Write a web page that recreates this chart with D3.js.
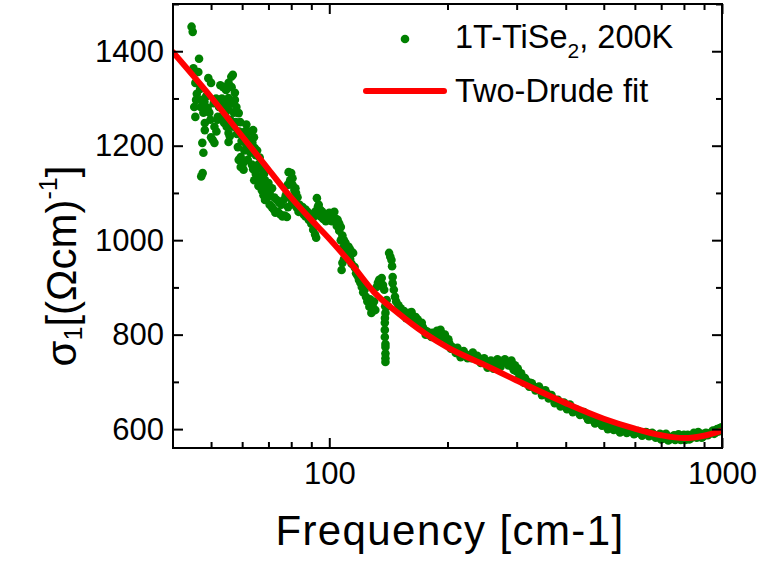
<!DOCTYPE html>
<html>
<head>
<meta charset="utf-8">
<script src="https://cdn.jsdelivr.net/npm/d3@7"></script>
<style>
  html, body { margin: 0; padding: 0; background: #fff; }
  svg { display: block; font-family: "Liberation Sans", Arial, Helvetica, sans-serif; }
</style>
</head>
<body>
<svg id="chart" width="760" height="562"></svg>
<script>
// ---------- data ----------
const xDomain = [40, 1000];
const yDomain = [560, 1500];
const xMajorTicks = [100, 1000];
const xMinorTicks = [50, 60, 70, 80, 90, 200, 300, 400, 500, 600, 700, 800, 900];
const yMajorTicks = [600, 800, 1000, 1200, 1400];
const yMinorTicks = [700, 900, 1100, 1300, 1500];

// measured sigma_1 (frequency cm-1, sigma)
const measured = [
  [44.6,1452],[44.9,1441],[45.1,1364],[45.3,1282],[45.6,1333],[45.8,1297],[45.6,1261],[46.4,1356],
  [46.6,1384],[47.6,1142],[47.2,1135],[47.0,1282],[47.4,1297],[47.5,1206],[47.8,1185],[48.1,1293],
  [48.2,1248],[48.2,1233],[49.2,1343],[50.0,1333],[50.0,1218],[49.5,1270],[50.5,1212],[51.0,1206],
  [51.0,1240],[51.5,1300],[52.0,1261],[52.0,1255],[52.4,1282],[52.8,1297],[52.8,1328],[53.0,1261],
  [53.7,1324],[54.0,1248],[54.6,1318],[55.0,1290],[55.4,1333],[55.4,1301],[55.4,1276],[55.4,1227],
  [55.4,1208],[56.0,1255],[56.3,1346],[56.4,1324],[56.8,1350],[57.0,1240],[57.5,1312],[57.5,1297],
  [58.0,1282],[58.5,1197],[58.8,1269],[58.8,1170],[59.0,1230],[59.5,1176],[59.5,1155],[60.0,1155],
  [60.3,1163],[60.5,1149],[61.0,1230],[61.5,1245],[62.0,1215],[62.0,1170],[63.0,1200],[63.0,1185],
  [63.7,1206],[64.0,1233],[64.3,1218],[64.6,1195],[65.0,1180],[65.5,1190],[66.0,1160],
  [46.0,1310],[46.9,1320],[47.8,1270],[48.6,1305],[49.0,1280],[49.8,1255],[50.8,1290],[51.6,1230],
  [53.3,1300],[53.9,1285],[54.3,1265],[54.8,1240],[55.8,1220],[56.5,1290],[57.2,1270],[57.8,1250],
  [58.2,1225],[59.3,1250],[59.8,1210],[60.8,1190],[61.5,1200],[62.5,1230],[63.5,1160],[64.0,1150],
  [65.5,1150],[66.5,1175],[67.5,1150],[68.2,1140],[69.0,1110],[70.5,1100],[71.5,1110],[72.5,1090],
  [73.5,1085],[74.5,1080],[75.5,1075],[76.5,1085],[77.5,1095],[78.5,1070],[79.5,1090],[80.5,1080],
  [81.5,1075],[82.5,1070],[83.5,1060],[85.5,1070],[87.0,1065],[88.0,1060],[89.0,1055],[90.0,1050],
  [64.4,1127],[65.0,1140],[66.0,1115],[66.9,1134],[67.3,1123],[67.3,1106],[68.0,1095],[68.6,1127],
  [68.6,1085],[69.5,1090],[70.0,1121],[70.5,1075],[71.4,1070],[72.2,1065],[72.9,1058],[74.0,1060],
  [75.0,1055],[76.0,1050],[77.0,1052],[78.0,1049],[78.4,1117],[78.8,1144],[79.5,1127],[79.5,1123],
  [80.0,1142],[80.6,1131],[80.6,1117],[81.5,1106],[82.0,1110],[82.3,1100],[83.0,1091],[84.0,1075],
  [84.7,1064],[86.0,1055],[87.0,1050],[88.7,1043],[90.0,1035],[91.0,1022],[92.0,1012],[92.6,1005],
  [91.0,1048],[92.0,1060],[93.5,1070],[95.0,1050],[96.5,1045],[98.0,1040],[100,1045],[101.5,1040],
  [103,1060],[104.5,1030],[106,1020],[107,1000],[108.5,985],[110,960],[111,975],[113,960],[114,950],
  [93.0,1089],[94.0,1075],[95.0,1064],[96.0,1060],[97.0,1052],[98.0,1049],[99.0,1055],[100,1058],
  [101,1055],[102.6,1049],[104,1045],[105,1043],[106,1035],[107,1028],[108,1010],[109,1000],
  [110,994],[112,986],[113,980],[115,973],[108,952],[107.5,937],[109,960],[110,970],[116,943],
  [117,930],[119,916],[121,901],[122,890],[124,880],[126.5,859],[128,846],[131,852],[132,901],
  [118,925],[120,910],[123,895],[125,870],[127,875],[129,860],[130,870],[135,905],[141,860],
  [133,910],[134,916],[136,920],[137,905],[138,895],[140,873],[139,846],[138.6,835],[138.5,825],
  [138.5,810],[138.5,795],[139,780],[139,774],[139,760],[139,750],[139,742],[138.8,860],
  [142,973],[143,965],[144,958],[144.5,945],[145,922],[145,909],[146,895],[147,880],
  [148,870],[150,862],[150,852],[152,846],[155,850],[155,840],[158,843],[160,846],[160,836],
  [163,840],[166,837],[166,828],[170,825],[170,818],[173,816],[176,808],[176,800],[180,799],
  [183,804],[185,800],[188,808],[190,804],[193,803],[193,795],[196,795],[199,789],[202,782],
  [205,775],[208,768],[210,761],[214,765],[218,760],[222,758],[227,757],[230,750],[233,755],
  [237,748],[240,751],[245,745],[250,742],[255,738],[260,736],[265,742],[270,738],[276,743],
  [283,740],[288,742],[293,731],[297,735],[300,722],[305,712],[311,704],[315,708],[320,695],
  [325,698],[330,689],[338,688],[345,683],[350,678],[358,676],[365,670],[370,665],[378,660],
  [385,655],[392,652],[400,650],[406,646],[413,647],[420,640],[430,637],[440,632],[452,626],
  [460,621],[470,619],[480,615],[490,613],[500,609],[508,608],[516,604],[525,604],[535,601],
  [545,600],[555,597],[567,598],[578,594],[590,594],[605,592],[620,593],[632,589],[645,592],
  [658,588],[670,589],[688,585],[707,588],[715,580],[725,585],[735,578],[744,583],[755,587],
  [770,584],[780,579],[790,583],[800,588],[812,583],[825,578],[840,585],[855,590],[876,588],
  [888,582],[900,590],[920,587],[941,594],[955,590],[965,598],[978,595],[988,602],[995,600],
  [152,856],[157,835],[162,848],[168,832],[172,825],[178,806],[182,795],[187,800],[192,810],
  [197,800],[201,790],[204,770],[212,772],[216,752],[220,765],[225,750],[232,762],[238,755],
  [243,740],[248,750],[253,730],[258,745],[262,728],[268,748],[273,732],[280,748],[286,735],
  [291,745],[295,725],[302,728],[308,718],[313,698],[318,702],[323,690],[328,697],[335,682],
  [342,690],[348,672],[355,682],[362,665],[368,672],[375,655],[382,662],[388,648],[396,656],
  [403,642],[410,652],[417,636],[425,642],[435,630],[445,636],[456,620],[465,625],[475,612],
  [485,618],[495,607],[505,612],[512,600],[520,607],[530,598],[540,604],[550,593],[560,600],
  [572,592],[584,598],[597,589],[612,596],[626,586],[640,594],[652,585],[664,592],[678,582],
  [695,590],[700,578],[720,590],[730,576],[750,580],[760,577],[775,589],[785,577],[795,586],
  [806,577],[818,588],[832,580],[848,592],[862,582],[870,594],[882,590],[895,584],[910,592],
  [930,590],[948,597],[960,592],[972,600],[985,596],[998,604]
];

// two-Drude fit curve (frequency cm-1, sigma)
const fit = [
  [40,1398],[50,1303],[60,1220],[70,1150],[80,1090],[90,1043],[100,1003],[115,945],[130,890],
  [150,845],[175,803],[200,773],[250,735],[300,703],[400,655],[500,622],[600,601],[700,587],
  [800,581],[900,586],[1000,597]
];

const legendLabels = ["1T-TiSe", "2", ", 200K", "Two-Drude fit"];
const xTitle = "Frequency [cm-1]";

// ---------- layout ----------
const svg = d3.select("#chart");
const mLeft = 173, mRight = 722, mTop = 4, mBottom = 448;
const green = "#008000", red = "#ff0000";

const x = d3.scaleLog().domain(xDomain).range([mLeft, mRight]);
const y = d3.scaleLinear().domain(yDomain).range([mBottom, mTop]);

svg.append("clipPath").attr("id", "clip").append("rect")
  .attr("x", mLeft).attr("y", mTop).attr("width", mRight - mLeft).attr("height", mBottom - mTop);

const plot = svg.append("g").attr("clip-path", "url(#clip)");

plot.selectAll("circle.pt").data(measured).join("circle")
  .attr("class", "pt")
  .attr("cx", d => x(d[0])).attr("cy", d => y(d[1])).attr("r", 4.3)
  .attr("fill", green);

const line = d3.line().x(d => x(d[0])).y(d => y(d[1])).curve(d3.curveMonotoneX);
plot.append("path").datum(fit).attr("d", line)
  .attr("fill", "none").attr("stroke", red).attr("stroke-width", 6).attr("stroke-linecap", "round");

function styleAxis(g) {
  g.select(".domain").remove();
  g.selectAll(".tick line").attr("stroke", "#000").attr("stroke-width", 2);
  g.selectAll(".tick text").attr("fill", "#000").style("font-size", "31px")
    .style("font-family", "'Liberation Sans', Arial, sans-serif");
}
const fmt = d3.format("d");
svg.append("g").attr("transform", `translate(0,${mBottom})`)
  .call(d3.axisBottom(x).tickValues(xMajorTicks).tickSize(-10).tickPadding(14).tickFormat(fmt)).call(styleAxis);
svg.append("g").attr("transform", `translate(0,${mBottom})`)
  .call(d3.axisBottom(x).tickValues(xMinorTicks).tickSize(-6).tickFormat("")).call(styleAxis);
svg.append("g").attr("transform", `translate(0,${mTop})`)
  .call(d3.axisTop(x).tickValues(xMajorTicks).tickSize(-10).tickFormat("")).call(styleAxis);
svg.append("g").attr("transform", `translate(0,${mTop})`)
  .call(d3.axisTop(x).tickValues(xMinorTicks).tickSize(-6).tickFormat("")).call(styleAxis);

svg.append("g").attr("transform", `translate(${mLeft},0)`)
  .call(d3.axisLeft(y).tickValues(yMajorTicks).tickSize(-10).tickPadding(9).tickFormat(fmt)).call(styleAxis);
svg.append("g").attr("transform", `translate(${mLeft},0)`)
  .call(d3.axisLeft(y).tickValues(yMinorTicks).tickSize(-6).tickFormat("")).call(styleAxis);
svg.append("g").attr("transform", `translate(${mRight},0)`)
  .call(d3.axisRight(y).tickValues(yMajorTicks).tickSize(-10).tickFormat("")).call(styleAxis);
svg.append("g").attr("transform", `translate(${mRight},0)`)
  .call(d3.axisRight(y).tickValues(yMinorTicks).tickSize(-6).tickFormat("")).call(styleAxis);

svg.append("rect").attr("x", mLeft).attr("y", mTop).attr("width", mRight - mLeft).attr("height", mBottom - mTop)
  .attr("fill", "none").attr("stroke", "#000").attr("stroke-width", 2);

svg.append("text").attr("x", 450).attr("y", 545).attr("text-anchor", "middle")
  .style("font-size", "42px").style("letter-spacing", "1.4px").attr("fill", "#000").text(xTitle);

const yt = svg.append("text").attr("transform", "translate(76,266) rotate(-90)")
  .attr("text-anchor", "middle").style("font-size", "42px").attr("fill", "#000");
yt.append("tspan").text("σ");
yt.append("tspan").attr("dy", 6).style("font-size", "25px").text("1");
yt.append("tspan").attr("dy", -6).text("[(Ωcm)");
yt.append("tspan").attr("dy", -19).style("font-size", "25px").text("-1");
yt.append("tspan").attr("dy", 19).text("]");

const lg = svg.append("g");
lg.append("circle").attr("cx", 405).attr("cy", 39).attr("r", 4.3).attr("fill", green);
const l1 = lg.append("text").attr("x", 455).attr("y", 48).style("font-size", "32.5px").attr("fill", "#000");
l1.append("tspan").text(legendLabels[0]);
l1.append("tspan").attr("dy", 10).style("font-size", "21px").text(legendLabels[1]);
l1.append("tspan").attr("dy", -10).text(legendLabels[2]);
lg.append("line").attr("x1", 366).attr("x2", 444).attr("y1", 91).attr("y2", 91)
  .attr("stroke", red).attr("stroke-width", 6).attr("stroke-linecap", "round");
lg.append("text").attr("x", 455).attr("y", 102).style("font-size", "32.5px").attr("fill", "#000").text(legendLabels[3]);
</script>
</body>
</html>
